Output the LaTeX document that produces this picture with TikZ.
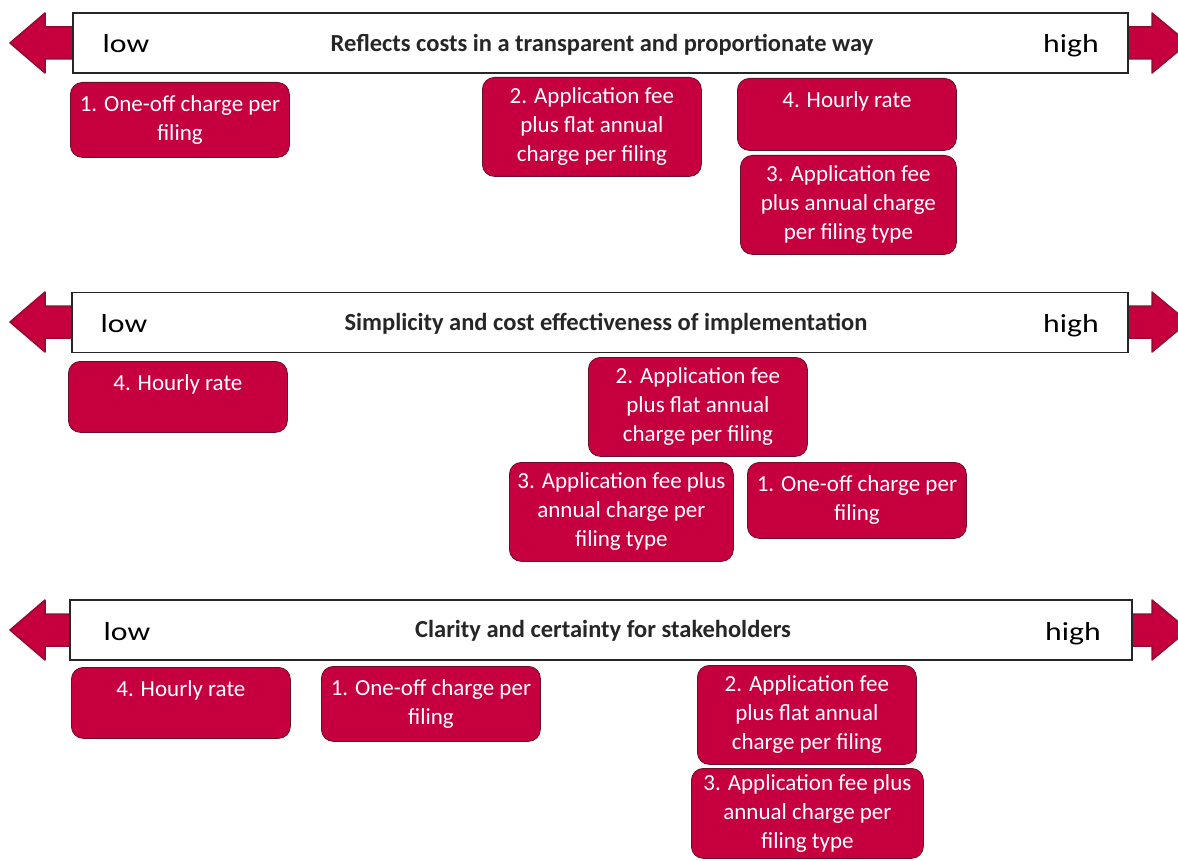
\documentclass[tikz,border=0pt]{standalone}
\usepackage{fontspec}
\setmainfont{Carlito}
\newfontfamily\widefont[FakeStretch=1.22]{Carlito}
\usepackage{tikz}

\definecolor{optfill}{RGB}{198,0,62}
\definecolor{optedge}{RGB}{105,15,40}
\definecolor{arrowedge}{RGB}{150,10,50}
\definecolor{titletext}{RGB}{38,38,38}

\begin{document}
\begin{tikzpicture}[x=1pt,y=-1pt]

\tikzset{option box/.style={
    draw=optedge, fill=optfill, line width=0.8pt, rounded corners=12pt,
    text=white, align=center, anchor=north west, inner sep=2pt,
    minimum width=219pt, font=\fontsize{23}{29}\selectfont
  },
  scale bar/.style={draw=black!85, fill=white, line width=1.4pt,
    minimum height=60pt, inner sep=0pt},
  scale arrow/.style={fill=optfill, draw=arrowedge, line width=1.5pt,
    line join=round},
  end label/.style={anchor=base, font=\widefont\fontsize{26}{30}\selectfont},
  scale title/.style={anchor=base, text=titletext,
    font=\fontsize{24.5}{30}\selectfont\bfseries}
}

\useasboundingbox (0,0) rectangle (1178,861);
\clip (0,0) rectangle (1178,861);

% double arrows behind the three scales
\foreach \c in {43,322,630}
  \draw[scale arrow] (10,\c) -- (45,\c-30) -- (45,\c-16) -- (1152,\c-16)
    -- (1152,\c-30) -- (1188,\c) -- (1152,\c+30) -- (1152,\c+16)
    -- (45,\c+16) -- (45,\c+30) -- cycle;

% scale 1
\node[scale bar, minimum width=1055pt] (bar1) at (600.5,43) {};
\node[end label] (low1) at (126,53) {low};
\node[end label] (high1) at (1071,53) {high};
\node[scale title] (title1) at (602,52) {Reflects costs in a transparent and proportionate way};

\node[option box, minimum height=75pt] (r1oneoff) at (70,82) {1. One-off charge per\\filing};
\node[option box, minimum height=99pt] (r1flat) at (482,77) {2. Application fee\\plus flat annual\\charge per filing};
\node[option box, minimum height=72pt] (r1hourly) at (737,78) {4. Hourly rate\\~};
\node[option box, minimum height=99pt, minimum width=216pt] (r1type) at (740,155) {3. Application fee\\plus annual charge\\per filing type};

% scale 2
\node[scale bar, minimum width=1056pt] (bar2) at (600,322.5) {};
\node[end label] (low2) at (124,332) {low};
\node[end label] (high2) at (1071,332) {high};
\node[scale title] (title2) at (606,330) {Simplicity and cost effectiveness of implementation};

\node[option box, minimum height=71pt] (r2hourly) at (68,361) {4. Hourly rate\\~};
\node[option box, minimum height=99pt] (r2flat) at (588,357) {2. Application fee\\plus flat annual\\charge per filing};
\node[option box, minimum height=99pt, minimum width=224pt] (r2type) at (509,462) {3. Application fee plus\\annual charge per\\filing type};
\node[option box, minimum height=76pt] (r2oneoff) at (747,462) {1. One-off charge per\\filing};

% scale 3
\node[scale bar, minimum width=1062pt] (bar3) at (601,630) {};
\node[end label] (low3) at (127,640) {low};
\node[end label] (high3) at (1073,640) {high};
\node[scale title] (title3) at (603,637) {Clarity and certainty for stakeholders};

\node[option box, minimum height=71pt] (r3hourly) at (71,667) {4. Hourly rate\\~};
\node[option box, minimum height=75pt] (r3oneoff) at (321,666) {1. One-off charge per\\filing};
\node[option box, minimum height=99pt] (r3flat) at (697,665) {2. Application fee\\plus flat annual\\charge per filing};
\node[option box, minimum height=90pt, minimum width=232pt] (r3type) at (691,768) {3. Application fee plus\\annual charge per\\filing type};

\end{tikzpicture}
\end{document}
